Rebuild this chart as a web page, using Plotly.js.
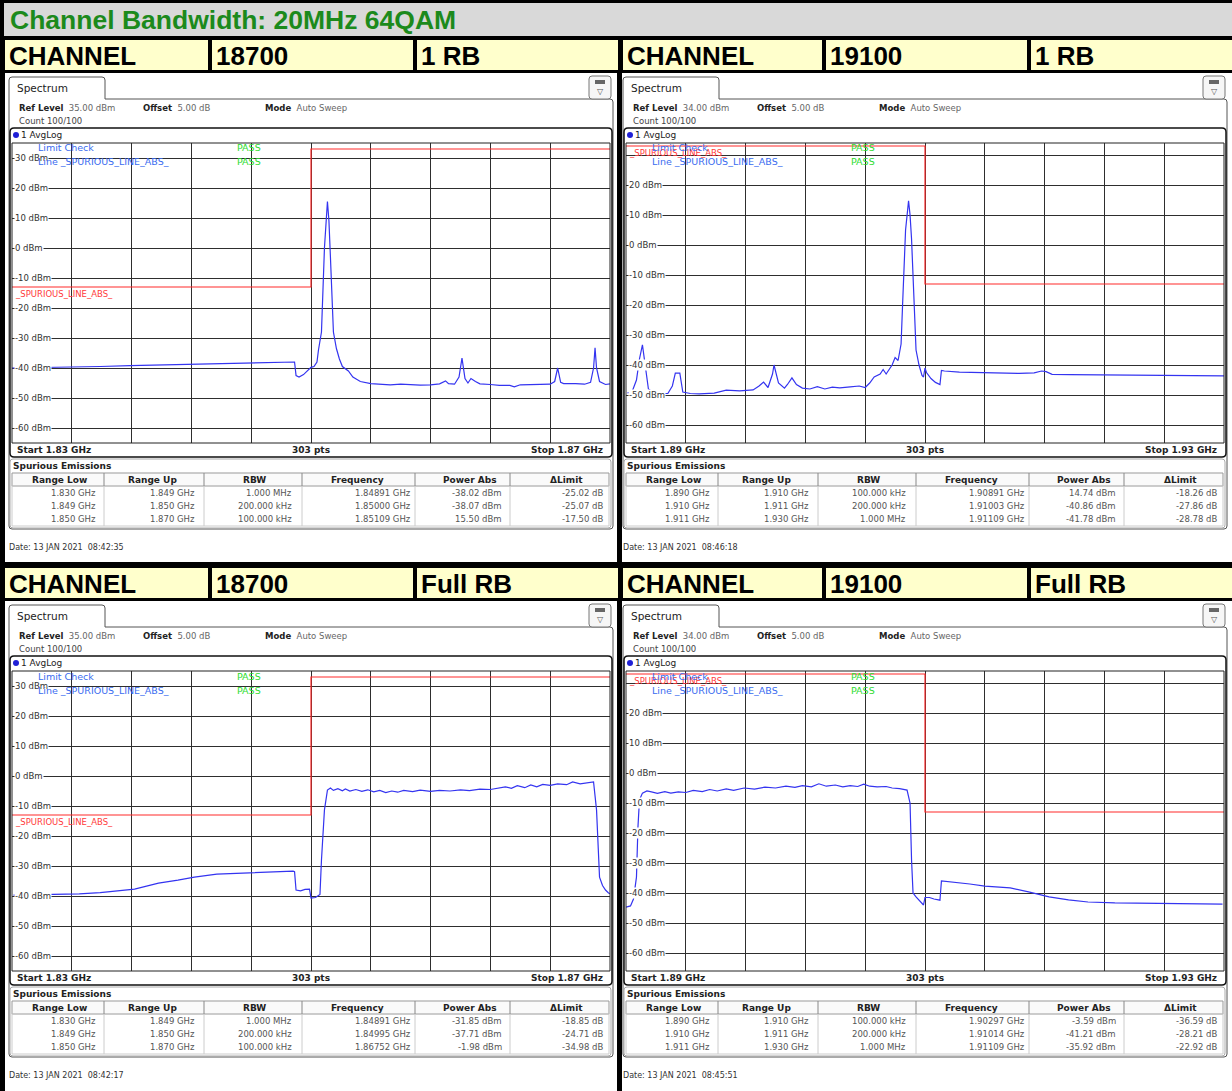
<!DOCTYPE html>
<html><head><meta charset="utf-8">
<script src="https://cdn.plot.ly/plotly-3.0.1.min.js"></script>
<style>html,body{margin:0;padding:0;background:#000;} #chart{width:1232px;height:1091px;}</style>
</head><body><div id="chart"></div>
<script>
// ---------------- DATA ----------------
const pageTitle = 'Channel Bandwidth: 20MHz 64QAM';
const channels = ['18700', '19100', '18700', '19100'];
const rbModes = ['1 RB', '1 RB', 'Full RB', 'Full RB'];
const refLevels = [35, 34, 35, 34];
const offsets = ['5.00 dB', '5.00 dB', '5.00 dB', '5.00 dB'];
const startFreqs = [1.83, 1.89, 1.83, 1.89];
const stopFreqs = [1.87, 1.93, 1.87, 1.93];
const startLabels = ['Start 1.83 GHz', 'Start 1.89 GHz', 'Start 1.83 GHz', 'Start 1.89 GHz'];
const stopLabels = ['Stop 1.87 GHz', 'Stop 1.93 GHz', 'Stop 1.87 GHz', 'Stop 1.93 GHz'];
const yTickValues = [30, 20, 10, 0, -10, -20, -30, -40, -50, -60];
const dates = ['13 JAN 2021  08:42:35', '13 JAN 2021  08:46:18', '13 JAN 2021  08:42:17', '13 JAN 2021  08:45:51'];

// limit lines (GHz, dBm)
const limitLowF = [1.83, 1.85, 1.85, 1.87];
const limitLowP = [-13, -13, 33, 33];
const limitHighF = [1.89, 1.91, 1.91, 1.93];
const limitHighP = [33, 33, -13, -13];

// spectrum traces (GHz, dBm)
const spec1F = [1.8300,1.8319,1.8339,1.8359,1.8379,1.8399,1.8419,1.8439,1.8459,1.8476,1.8486,1.8489,1.8490,1.8492,1.8495,1.8497,1.8499,1.8500,1.8502,1.8504,1.8505,1.8507,1.8508,1.8509,1.8511,1.8512,1.8513,1.8514,1.8515,1.8517,1.8519,1.8521,1.8525,1.8528,1.8533,1.8540,1.8546,1.8553,1.8560,1.8566,1.8573,1.8580,1.8586,1.8590,1.8592,1.8596,1.8599,1.8601,1.8603,1.8605,1.8607,1.8610,1.8613,1.8620,1.8626,1.8633,1.8636,1.8640,1.8647,1.8653,1.8660,1.8663,1.8665,1.8667,1.8669,1.8677,1.8683,1.8687,1.8689,1.8690,1.8691,1.8693,1.8697,1.8700];
const spec1P = [-40.0,-39.9,-39.7,-39.5,-39.2,-39.0,-38.8,-38.6,-38.4,-38.2,-38.1,-38.0,-42.5,-43.0,-42.2,-41.3,-40.4,-39.8,-39.5,-38.0,-34.0,-28.0,-14.0,0.0,15.5,9.0,-3.0,-16.0,-28.0,-33.5,-37.0,-39.5,-41.0,-43.0,-44.5,-45.2,-45.3,-45.6,-45.4,-45.6,-45.7,-45.6,-45.3,-44.3,-45.2,-45.4,-43.0,-36.7,-43.5,-45.0,-43.5,-44.5,-45.3,-45.5,-45.8,-45.8,-46.3,-45.6,-45.5,-45.4,-45.4,-44.5,-40.0,-44.8,-45.2,-45.2,-45.4,-44.8,-40.0,-33.3,-40.0,-44.5,-45.5,-45.3];

const spec2F = [1.8901,1.8904,1.8907,1.8909,1.8911,1.8913,1.8915,1.8919,1.8928,1.8931,1.8933,1.8936,1.8938,1.8943,1.8949,1.8959,1.8967,1.8976,1.8985,1.8989,1.8992,1.8995,1.8998,1.8999,1.9002,1.9006,1.9008,1.9011,1.9014,1.9018,1.9023,1.9028,1.9033,1.9038,1.9043,1.9050,1.9056,1.9060,1.9063,1.9066,1.9070,1.9072,1.9074,1.9078,1.9080,1.9082,1.9084,1.9085,1.9086,1.9087,1.9089,1.9090,1.9091,1.9092,1.9093,1.9094,1.9096,1.9098,1.9099,1.9100,1.9101,1.9104,1.9107,1.9110,1.9111,1.9113,1.9123,1.9136,1.9150,1.9163,1.9173,1.9178,1.9181,1.9185,1.9197,1.9217,1.9237,1.9257,1.9273,1.9283,1.9300];
const spec2P = [-49.3,-49.0,-45.0,-38.0,-33.3,-40.0,-48.0,-49.5,-49.5,-47.0,-42.7,-42.7,-49.0,-49.5,-49.6,-49.4,-48.4,-48.6,-48.3,-47.0,-45.7,-47.5,-43.0,-40.0,-46.0,-47.7,-46.5,-44.3,-46.5,-47.7,-48.0,-47.2,-48.0,-47.4,-47.6,-47.3,-47.0,-47.5,-46.0,-44.0,-43.0,-41.5,-43.0,-40.0,-37.5,-38.5,-33.0,-20.0,-9.0,5.0,14.7,10.0,2.0,-12.0,-27.0,-35.0,-40.0,-43.5,-44.0,-41.0,-42.5,-44.5,-45.8,-46.5,-41.8,-42.0,-42.4,-42.6,-42.7,-42.8,-42.6,-42.0,-42.2,-43.1,-43.2,-43.3,-43.3,-43.4,-43.5,-43.4,-43.6];

const spec3F = [1.8301,1.8319,1.8345,1.8359,1.8372,1.8382,1.8390,1.8398,1.8411,1.8422,1.8437,1.8451,1.8464,1.8476,1.8488,1.8489,1.8490,1.8493,1.8496,1.8499,1.8500,1.8503,1.8506,1.8507,1.8509,1.8511,1.8513,1.8515,1.8518,1.8521,1.8523,1.8526,1.8530,1.8534,1.8538,1.8542,1.8546,1.8550,1.8554,1.8558,1.8562,1.8568,1.8573,1.8580,1.8586,1.8593,1.8600,1.8606,1.8613,1.8620,1.8625,1.8630,1.8634,1.8638,1.8643,1.8647,1.8651,1.8655,1.8660,1.8665,1.8671,1.8675,1.8680,1.8685,1.8689,1.8691,1.8692,1.8693,1.8695,1.8697,1.8699,1.8700];
const spec3P = [-39.7,-39.6,-39.3,-38.9,-38.3,-37.7,-36.7,-35.7,-34.7,-33.7,-32.7,-32.4,-32.3,-32.0,-31.7,-31.9,-38.0,-38.3,-37.8,-37.7,-40.7,-40.5,-39.5,-28.0,-11.3,-4.7,-4.0,-4.8,-4.2,-4.9,-4.3,-5.0,-4.5,-5.1,-4.6,-5.3,-4.8,-5.5,-5.0,-5.4,-4.8,-5.2,-4.7,-5.1,-4.8,-5.0,-4.6,-4.9,-4.4,-4.5,-4.0,-3.6,-4.1,-3.2,-3.9,-3.0,-3.6,-2.8,-3.1,-2.6,-2.9,-2.0,-2.6,-2.2,-2.0,-11.3,-22.3,-33.7,-36.5,-38.0,-39.0,-39.2];

const spec4F = [1.8900,1.8903,1.8905,1.8907,1.8908,1.8909,1.8911,1.8914,1.8917,1.8921,1.8926,1.8930,1.8935,1.8940,1.8945,1.8951,1.8956,1.8961,1.8967,1.8972,1.8979,1.8986,1.8993,1.9000,1.9007,1.9013,1.9018,1.9024,1.9029,1.9034,1.9040,1.9045,1.9050,1.9055,1.9059,1.9063,1.9068,1.9074,1.9078,1.9083,1.9088,1.9090,1.9091,1.9092,1.9094,1.9097,1.9099,1.9100,1.9103,1.9106,1.9110,1.9111,1.9118,1.9130,1.9140,1.9150,1.9157,1.9170,1.9183,1.9196,1.9209,1.9227,1.9243,1.9261,1.9280,1.9299];
const spec4P = [-44.7,-44.3,-42.0,-34.7,-18.0,-9.0,-6.7,-6.0,-6.3,-6.8,-6.2,-6.7,-6.3,-6.5,-5.8,-6.2,-5.5,-6.0,-5.3,-5.8,-5.0,-5.4,-4.7,-5.0,-4.4,-4.8,-4.2,-4.6,-3.6,-4.4,-4.0,-4.6,-4.2,-4.5,-3.7,-4.4,-4.6,-4.5,-5.0,-5.2,-5.7,-10.0,-29.0,-40.0,-41.3,-43.0,-44.0,-41.5,-41.5,-42.0,-42.4,-36.0,-36.3,-37.0,-37.7,-38.0,-38.3,-39.7,-41.3,-42.3,-43.0,-43.3,-43.4,-43.3,-43.5,-43.7];

// spurious emission tables
const tableHeaders = ['Range Low', 'Range Up', 'RBW', 'Frequency', 'Power Abs', '\u0394Limit'];
const spur1 = [
  ['1.830 GHz', '1.849 GHz', '1.000 MHz', '1.84891 GHz', '-38.02 dBm', '-25.02 dB'],
  ['1.849 GHz', '1.850 GHz', '200.000 kHz', '1.85000 GHz', '-38.07 dBm', '-25.07 dB'],
  ['1.850 GHz', '1.870 GHz', '100.000 kHz', '1.85109 GHz', '15.50 dBm', '-17.50 dB']];
const spur2 = [
  ['1.890 GHz', '1.910 GHz', '100.000 kHz', '1.90891 GHz', '14.74 dBm', '-18.26 dB'],
  ['1.910 GHz', '1.911 GHz', '200.000 kHz', '1.91003 GHz', '-40.86 dBm', '-27.86 dB'],
  ['1.911 GHz', '1.930 GHz', '1.000 MHz', '1.91109 GHz', '-41.78 dBm', '-28.78 dB']];
const spur3 = [
  ['1.830 GHz', '1.849 GHz', '1.000 MHz', '1.84891 GHz', '-31.85 dBm', '-18.85 dB'],
  ['1.849 GHz', '1.850 GHz', '200.000 kHz', '1.84995 GHz', '-37.71 dBm', '-24.71 dB'],
  ['1.850 GHz', '1.870 GHz', '100.000 kHz', '1.86752 GHz', '-1.98 dBm', '-34.98 dB']];
const spur4 = [
  ['1.890 GHz', '1.910 GHz', '100.000 kHz', '1.90297 GHz', '-3.59 dBm', '-36.59 dB'],
  ['1.910 GHz', '1.911 GHz', '200.000 kHz', '1.91014 GHz', '-41.21 dBm', '-28.21 dB'],
  ['1.911 GHz', '1.930 GHz', '1.000 MHz', '1.91109 GHz', '-35.92 dBm', '-22.92 dB']];

// ---------------- BUILD ----------------
const W = 1232, H = 1091;
const X = x => x / W;
const Y = y => 1 - y / H;
const shapes = [];
const annotations = [];
const FONT = 'DejaVu Sans';

function rect(x0, y0, x1, y1, fill, line, lw, layer) {
  shapes.push({type: 'rect', xref: 'paper', yref: 'paper', x0: X(x0), x1: X(x1), y0: Y(y1), y1: Y(y0),
    fillcolor: fill || 'rgba(0,0,0,0)', line: {color: line || 'rgba(0,0,0,0)', width: line ? (lw || 1) : 0}, layer: layer || 'below'});
}
function P(x, y) { return X(x) + ',' + Y(y); }
function rrPath(x0, y0, x1, y1, r) {
  return 'M ' + P(x0 + r, y0) + ' L ' + P(x1 - r, y0) + ' Q ' + P(x1, y0) + ' ' + P(x1, y0 + r) +
    ' L ' + P(x1, y1 - r) + ' Q ' + P(x1, y1) + ' ' + P(x1 - r, y1) + ' L ' + P(x0 + r, y1) +
    ' Q ' + P(x0, y1) + ' ' + P(x0, y1 - r) + ' L ' + P(x0, y0 + r) + ' Q ' + P(x0, y0) + ' ' + P(x0 + r, y0) + ' Z';
}
function path(d, fill, line, lw, layer) {
  shapes.push({type: 'path', xref: 'paper', yref: 'paper', path: d, fillcolor: fill || 'rgba(0,0,0,0)',
    line: {color: line || 'rgba(0,0,0,0)', width: line ? (lw || 1) : 0}, layer: layer || 'below'});
}
function vline(x, y0, y1, color, lw, layer) {
  shapes.push({type: 'line', xref: 'paper', yref: 'paper', x0: X(x), x1: X(x), y0: Y(y0), y1: Y(y1),
    line: {color: color, width: lw || 1}, layer: layer || 'above'});
}
function ann(x, y, text, o) {
  o = o || {};
  const a = {xref: 'paper', yref: 'paper', x: X(x), y: Y(y), text: text, showarrow: false,
    xanchor: o.xa || 'left', yanchor: o.ya || 'middle',
    font: {family: o.fam || FONT, size: o.size || 9, color: o.color || '#222'}, borderpad: 0};
  if (o.bg) a.bgcolor = o.bg;
  annotations.push(a);
}

// page background pieces
rect(4, 3, 1232, 36, '#d9d9d9');
ann(9, 20, '<b>' + pageTitle + '</b>', {fam: 'Liberation Sans', size: 26.5, color: '#1c8a1c'});

const cellX = [[5, 208], [212, 413], [417, 618]];
const ox = [0, 614, 0, 614];
const oy = [0, 0, 528, 528];
const specF = [spec1F, spec2F, spec3F, spec4F];
const specP = [spec1P, spec2P, spec3P, spec4P];
const limF = [limitLowF, limitHighF, limitLowF, limitHighF];
const limP = [limitLowP, limitHighP, limitLowP, limitHighP];
const spurs = [spur1, spur2, spur3, spur4];

const traces = [];
const layout = {
  width: W, height: H, margin: {l: 0, r: 0, t: 0, b: 0, pad: 0}, autosize: false,
  paper_bgcolor: '#000', plot_bgcolor: '#fff', showlegend: false,
  shapes: shapes, annotations: annotations
};

const colHeadX = [59, 152, 254, 357, 470, 566];
const colRightX = [97, 196, 293, 412, 503, 604];
const colDiv = [104, 204, 302, 415, 510];
const rowY = [493, 506, 519];

for (let p = 0; p < 4; p++) {
  const dx = ox[p], dy = oy[p];
  const right = (p % 2 === 1) ? 1232 : 617;
  // header row
  const hdr = ['CHANNEL', channels[p], rbModes[p]];
  for (let c = 0; c < 3; c++) {
    const cx1 = (p % 2 === 1 && c === 2) ? 1232 : cellX[c][1] + dx;
    rect(cellX[c][0] + dx + (p % 2 === 1 && c === 0 ? 4 : 0), 40 + dy, cx1, 70 + dy, '#ffffcc');
    ann(cellX[c][0] + dx + 3 + (p % 2 === 1 && c === 0 ? 4 : 0), 56 + dy, '<b>' + hdr[c] + '</b>', {fam: 'Liberation Sans', size: 26, color: '#000'});
  }
  // panel background
  rect(5 + dx + (p % 2 === 1 ? 3 : 0), 73 + dy, right, (p < 2 ? 562 : 1091), '#ffffff');
  // window frame with tab
  path('M ' + P(9 + dx, 526 + dy) + ' L ' + P(9 + dx, 80 + dy) + ' Q ' + P(9 + dx, 77 + dy) + ' ' + P(12 + dx, 77 + dy) +
       ' L ' + P(102 + dx, 77 + dy) + ' Q ' + P(105 + dx, 77 + dy) + ' ' + P(105 + dx, 80 + dy) +
       ' L ' + P(105 + dx, 99 + dy) + ' L ' + P(610 + dx, 99 + dy) + ' Q ' + P(613 + dx, 99 + dy) + ' ' + P(613 + dx, 102 + dy) +
       ' L ' + P(613 + dx, 526 + dy) + ' Q ' + P(613 + dx, 529 + dy) + ' ' + P(610 + dx, 529 + dy) +
       ' L ' + P(12 + dx, 529 + dy) + ' Q ' + P(9 + dx, 529 + dy) + ' ' + P(9 + dx, 526 + dy), null, '#555', 1, 'below');
  ann(16 + dx, 88 + dy, 'Spectrum', {size: 10.5, color: '#222'});
  // icon
  path(rrPath(589 + dx, 76 + dy, 611 + dx, 99 + dy, 3), '#f6f6f6', '#777', 1, 'below');
  rect(595 + dx, 80 + dy, 605 + dx, 84 + dy, '#666');
  ann(600 + dx, 91 + dy, '\u25BD', {xa: 'center', size: 8, color: '#555'});
  // info
  ann(18 + dx, 108 + dy, '<b>Ref Level</b>  <span style="color:#666">' + refLevels[p].toFixed(2) + ' dBm</span>', {size: 8.5});
  ann(142 + dx, 108 + dy, '<b>Offset</b>  <span style="color:#666">' + offsets[p] + '</span>', {size: 8.5});
  ann(264 + dx, 108 + dy, '<b>Mode</b>  <span style="color:#666">Auto Sweep</span>', {size: 8.5});
  ann(18 + dx, 121 + dy, 'Count 100/100', {size: 8.5, color: '#444'});
  // plot frame
  path(rrPath(10 + dx, 128 + dy, 612 + dx, 457 + dy, 4), null, '#111', 1.5, 'above');
  rect(12 + dx, 143 + dy, 610 + dx, 443 + dy, null, '#222', 1, 'above');
  shapes.push({type: 'circle', xref: 'paper', yref: 'paper', x0: X(13 + dx), x1: X(19 + dx), y0: Y(138 + dy), y1: Y(132 + dy),
    fillcolor: '#1f1fd6', line: {width: 0}, layer: 'above'});
  ann(20 + dx, 135 + dy, '1 AvgLog', {size: 9, color: '#222'});
  // axes
  const n = p === 0 ? '' : String(p + 1);
  layout['xaxis' + n] = {domain: [X(12 + dx), X(610 + dx)], range: [startFreqs[p], stopFreqs[p]], anchor: 'y' + n,
    showgrid: true, gridcolor: '#2e2e2e', gridwidth: 1, dtick: 0.004, tick0: startFreqs[p],
    showticklabels: false, ticks: '', zeroline: false, showline: false, fixedrange: true};
  layout['yaxis' + n] = {domain: [Y(443 + dy), Y(143 + dy)], range: [refLevels[p] - 100, refLevels[p]], anchor: 'x' + n,
    showgrid: true, gridcolor: '#2e2e2e', gridwidth: 1, tickmode: 'array', tickvals: yTickValues,
    showticklabels: false, ticks: '', zeroline: false, showline: false, fixedrange: true};
  // traces
  traces.push({x: limF[p], y: limP[p], xaxis: 'x' + n, yaxis: 'y' + n, type: 'scatter', mode: 'lines',
    line: {color: '#ff2b2b', width: 1.2}, hoverinfo: 'skip'});
  traces.push({x: specF[p], y: specP[p], xaxis: 'x' + n, yaxis: 'y' + n, type: 'scatter', mode: 'lines',
    line: {color: '#3434f0', width: 1.2}, hoverinfo: 'skip'});
  // y tick labels
  yTickValues.forEach(v => {
    if (p % 2 === 1 && v === 30) return;
    annotations.push({xref: 'paper', yref: 'y' + n, x: X(14 + dx), y: v, text: v + ' dBm', showarrow: false,
      xanchor: 'left', yanchor: 'middle', bgcolor: '#fff', borderpad: 0,
      font: {family: FONT, size: 8.5, color: '#333'}});
  });
  // limit labels
  const limY = 143 + dy + (refLevels[p] - limP[p][0]) * 3 + 7;
  ann(14 + dx, limY, '_SPURIOUS_LINE_ABS_', {size: 8.5, color: '#ff3a3a'});
  ann(37 + dx, 148 + dy, 'Limit Check', {size: 9.5, color: '#3a6cf0'});
  ann(37 + dx, 162 + dy, 'Line _SPURIOUS_LINE_ABS_', {size: 9.5, color: '#3a6cf0'});
  ann(236 + dx, 148 + dy, 'PASS', {size: 9.5, color: '#2fdc2f'});
  ann(236 + dx, 162 + dy, 'PASS', {size: 9.5, color: '#2fdc2f'});
  // start / stop
  ann(16 + dx, 450 + dy, '<b>' + startLabels[p] + '</b>', {size: 9});
  ann(311 + dx, 450 + dy, '<b>303 pts</b>', {size: 9, xa: 'center'});
  ann(604 + dx, 450 + dy, '<b>' + stopLabels[p] + '</b>', {size: 9, xa: 'right'});
  // spurious table
  path(rrPath(10 + dx, 459 + dy, 611 + dx, 528 + dy, 3), null, '#aaa', 1, 'below');
  ann(12 + dx, 466 + dy, '<b>Spurious Emissions</b>', {size: 9});
  rect(12 + dx, 473 + dy, 609 + dx, 486 + dy, '#fafafa', '#999', 1, 'below');
  rect(12 + dx, 486 + dy, 609 + dx, 526 + dy, null, '#ccc', 1, 'below');
  colDiv.forEach(cx => vline(cx + dx, 473 + dy, 486 + dy, '#888', 1, 'below'));
  colDiv.forEach(cx => vline(cx + dx, 486 + dy, 526 + dy, '#ccc', 1, 'below'));
  tableHeaders.forEach((h, i) => ann(colHeadX[i] + dx, 480 + dy, '<b>' + h + '</b>', {size: 9, xa: 'center'}));
  spurs[p].forEach((row, r) => row.forEach((cell, i) =>
    ann(colRightX[i] + dx, rowY[r] + dy, cell, {size: 8.5, xa: 'right', color: '#555'})));
  // date
  ann(8 + dx, 547 + dy, 'Date: ' + dates[p], {size: 8, color: '#333'});
}

Plotly.newPlot('chart', traces, layout, {staticPlot: true});
</script>
</body></html>
